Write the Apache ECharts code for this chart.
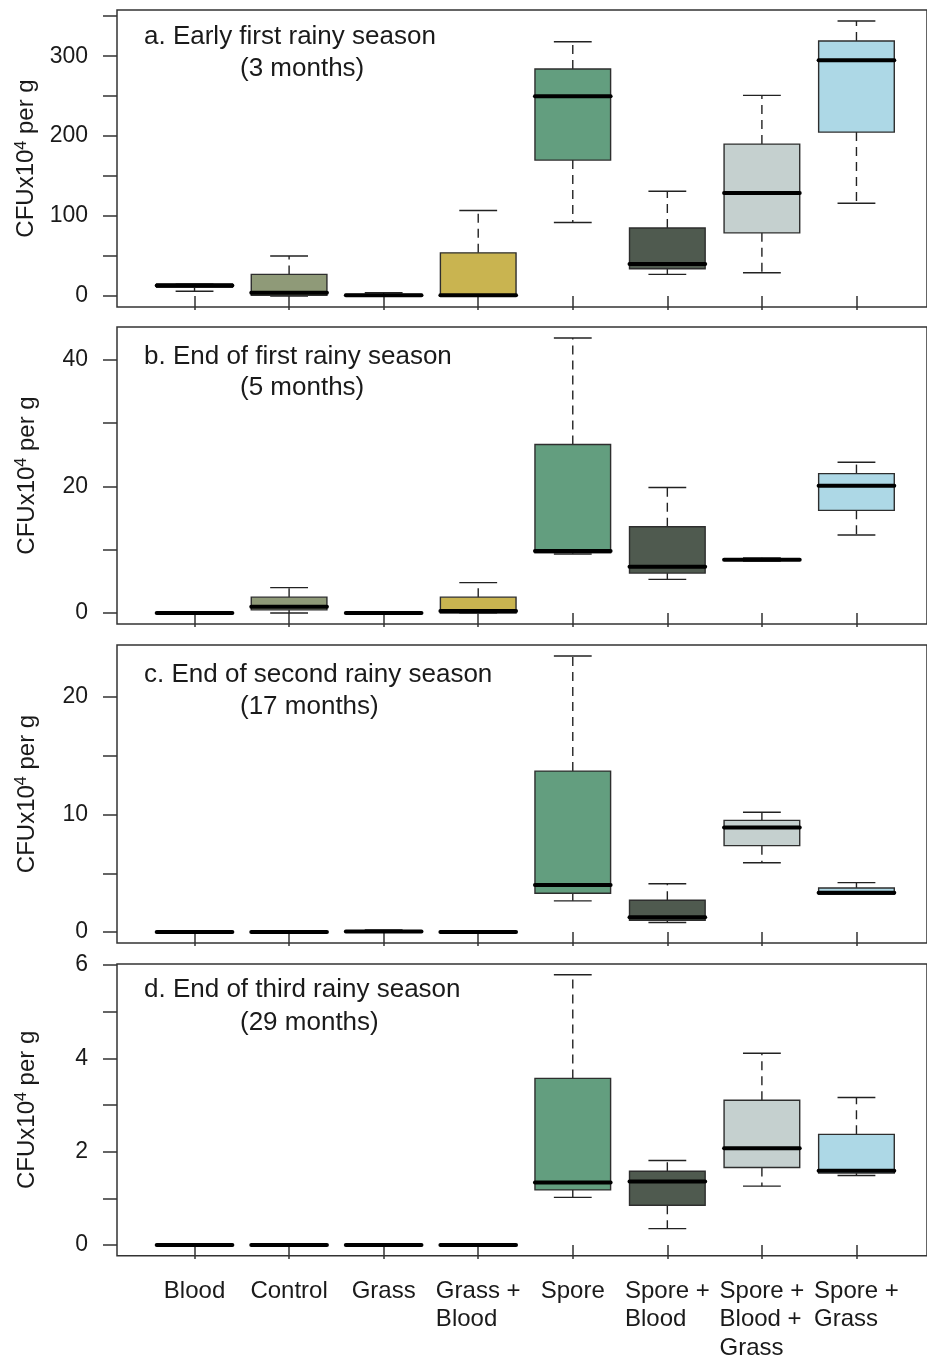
<!DOCTYPE html>
<html>
<head>
<meta charset="utf-8">
<title>CFU boxplots</title>
<script src="https://cdn.jsdelivr.net/npm/echarts@6/dist/echarts.min.js"></script>
<style>
  html, body { margin: 0; padding: 0; background: #fff; }
  #chart { width: 927px; height: 1360px; }
</style>
</head>
<body>
<div id="chart"></div>
<script>
// treatment groups, left to right
var categories = ['Blood', 'Control', 'Grass', 'Grass + Blood', 'Spore', 'Spore + Blood', 'Spore + Blood + Grass', 'Spore + Grass'];
var boxColors = ['#7a2a2a', '#8f9a78', '#6e5a3a', '#c9b450', '#639e7f', '#4f5a4f', '#c5d0cf', '#add8e6'];

// [min, q1, median, q3, max] per group, one array per sampling date
var earlyFirst = [
  [6, 11, 13, 15, 15],
  [0, 1, 4, 27, 50],
  [0, 0, 1, 2, 4],
  [0, 0, 1, 54, 107],
  [92, 170, 250, 284, 318],
  [27, 34, 40, 85, 131],
  [29, 79, 129, 190, 251],
  [116, 205, 295, 319, 344]
];
var endFirst = [
  [0, 0, 0, 0, 0],
  [0, 0.5, 1, 2.5, 4],
  [0, 0, 0, 0, 0],
  [0, 0, 0.3, 2.5, 4.8],
  [9.3, 9.5, 9.8, 26.6, 43.4],
  [5.3, 6.3, 7.3, 13.6, 19.8],
  [8.2, 8.3, 8.4, 8.5, 8.7],
  [12.3, 16.2, 20.1, 22, 23.8]
];
var endSecond = [
  [0, 0, 0, 0, 0],
  [0, 0, 0, 0, 0],
  [0, 0, 0.05, 0.1, 0.17],
  [0, 0, 0, 0, 0],
  [2.65, 3.3, 4.0, 13.7, 23.5],
  [0.8, 1.0, 1.25, 2.7, 4.1],
  [5.9, 7.35, 8.9, 9.5, 10.2],
  [3.2, 3.2, 3.35, 3.75, 4.2]
];
var endThird = [
  [0, 0, 0, 0, 0],
  [0, 0, 0, 0, 0],
  [0, 0, 0, 0, 0],
  [0, 0, 0, 0, 0],
  [1.02, 1.18, 1.34, 3.57, 5.79],
  [0.35, 0.85, 1.36, 1.58, 1.81],
  [1.26, 1.66, 2.07, 3.1, 4.11],
  [1.49, 1.54, 1.59, 2.37, 3.16]
];

// tick values for each panel
var ticksA = [0, 50, 100, 150, 200, 250, 300, 350];
var labelsA = [0, 100, 200, 300];
var ticksB = [0, 10, 20, 30, 40];
var labelsB = [0, 20, 40];
var ticksC = [0, 5, 10, 15, 20];
var labelsC = [0, 10, 20];
var ticksD = [0, 1, 2, 3, 4, 5, 6];
var labelsD = [0, 2, 4, 6];

var panelTitles = [
  ['a. Early first rainy season', '(3 months)'],
  ['b. End of first rainy season', '(5 months)'],
  ['c. End of second rainy season', '(17 months)'],
  ['d. End of third rainy season', '(29 months)']
];

var FONT = '"Liberation Sans", Arial, sans-serif';
var panels = [
  { data: earlyFirst, ticks: ticksA, labels: labelsA, top: 10, height: 297, t1: 25, t2: 57 },
  { data: endFirst, ticks: ticksB, labels: labelsB, top: 327, height: 297, t1: 28, t2: 59 },
  { data: endSecond, ticks: ticksC, labels: labelsC, top: 645, height: 298, t1: 28, t2: 60 },
  { data: endThird, ticks: ticksD, labels: labelsD, top: 964, height: 295, t1: 24, t2: 57 }
];

var catPos = categories.map(function (c, i) { return i + 1; });

// R style box: range padded 4% each side
function paddedRange(rows) {
  var lo = Infinity, hi = -Infinity;
  rows.forEach(function (r) {
    lo = Math.min(lo, r[0]);
    hi = Math.max(hi, r[4]);
  });
  var ext = (hi - lo) * 0.04;
  return [lo - ext, hi + ext];
}

var renderBox = function (params, api) {
  var x = api.value(0);
  var lo = api.coord([x, api.value(1)]);
  var q1 = api.coord([x, api.value(2)]);
  var med = api.coord([x, api.value(3)]);
  var q3 = api.coord([x, api.value(4)]);
  var hi = api.coord([x, api.value(5)]);
  var bw = api.size([0.8, 0])[0];
  var cw = bw / 2;
  var cx = lo[0];
  var color = boxColors[params.dataIndex];
  var whisk = { stroke: '#222', lineWidth: 1.4, lineDash: [9, 6] };
  var cap = { stroke: '#222', lineWidth: 1.4 };
  return {
    type: 'group',
    children: [
      { type: 'line', shape: { x1: cx, y1: q3[1], x2: cx, y2: hi[1] }, style: whisk },
      { type: 'line', shape: { x1: cx, y1: q1[1], x2: cx, y2: lo[1] }, style: whisk },
      { type: 'line', shape: { x1: cx - cw / 2, y1: hi[1], x2: cx + cw / 2, y2: hi[1] }, style: cap },
      { type: 'line', shape: { x1: cx - cw / 2, y1: lo[1], x2: cx + cw / 2, y2: lo[1] }, style: cap },
      { type: 'rect', shape: { x: cx - bw / 2, y: q3[1], width: bw, height: q1[1] - q3[1] },
        style: { fill: color, stroke: '#2e2e2e', lineWidth: 1.4 } },
      { type: 'line', shape: { x1: cx - bw / 2, y1: med[1], x2: cx + bw / 2, y2: med[1] },
        style: { stroke: '#000', lineWidth: 4, lineCap: 'round' } }
    ]
  };
};

var option = {
  animation: false,
  backgroundColor: '#fff',
  title: [],
  grid: [],
  xAxis: [],
  yAxis: [],
  series: []
};

panels.forEach(function (p, k) {
  var range = paddedRange(p.data);
  var last = k === panels.length - 1;
  // plot region runs past the right edge of the page, so the x range is cut at 8.746
  option.grid.push({
    left: 117, top: p.top, right: 0, height: p.height,
    show: true, borderColor: '#333', borderWidth: 1.5, backgroundColor: 'transparent'
  });
  option.xAxis.push({
    type: 'value', gridIndex: k, min: 0.18, max: 8.746,
    axisLine: { show: false },
    splitLine: { show: false },
    axisTick: { show: true, customValues: catPos, length: 14, lineStyle: { color: '#333', width: 1.5 } },
    axisLabel: {
      show: last,
      customValues: catPos,
      margin: 21,
      hideOverlap: false,
      formatter: function (v) {
        var parts = categories[Math.round(v) - 1].split(' + ');
        return parts.map(function (s, i) {
          return '{a|' + s + (i < parts.length - 1 ? ' +' : '') + '}';
        }).join('\n');
      },
      rich: {
        a: { fontSize: 24, fontFamily: FONT, color: '#1a1a1a', lineHeight: 28.5, align: 'left' }
      }
    }
  });
  option.yAxis.push({
    type: 'value', gridIndex: k, min: range[0], max: range[1],
    axisLine: { show: false },
    splitLine: { show: false },
    axisTick: { show: true, customValues: p.ticks, length: 14, lineStyle: { color: '#333', width: 1.5 } },
    axisLabel: { customValues: p.labels, margin: 29, fontSize: 23, fontFamily: FONT, color: '#1a1a1a' },
    name: '{n|CFUx10}{s|4}{n| per g}',
    nameLocation: 'middle',
    nameRotate: 90,
    nameGap: 76,
    nameTextStyle: {
      rich: {
        n: { fontSize: 24, fontFamily: FONT, color: '#1a1a1a', lineHeight: 27 },
        s: { fontSize: 16, fontFamily: FONT, color: '#1a1a1a', lineHeight: 16, verticalAlign: 'top' }
      }
    }
  });
  option.title.push({
    text: panelTitles[k][0], left: 144, top: p.top + p.t1 - 11, padding: 0,
    textStyle: { fontSize: 26, fontWeight: 'normal', fontFamily: FONT, color: '#1a1a1a' }
  });
  option.title.push({
    text: panelTitles[k][1], left: 240, top: p.top + p.t2 - 11, padding: 0,
    textStyle: { fontSize: 26, fontWeight: 'normal', fontFamily: FONT, color: '#1a1a1a' }
  });
  option.series.push({
    type: 'custom', xAxisIndex: k, yAxisIndex: k,
    renderItem: renderBox,
    encode: { x: 0, y: [1, 2, 3, 4, 5] },
    data: p.data.map(function (r, i) { return [catPos[i]].concat(r); })
  });
});

var chart = echarts.init(document.getElementById('chart'), null, { renderer: 'canvas' });
chart.setOption(option);
</script>
</body>
</html>
